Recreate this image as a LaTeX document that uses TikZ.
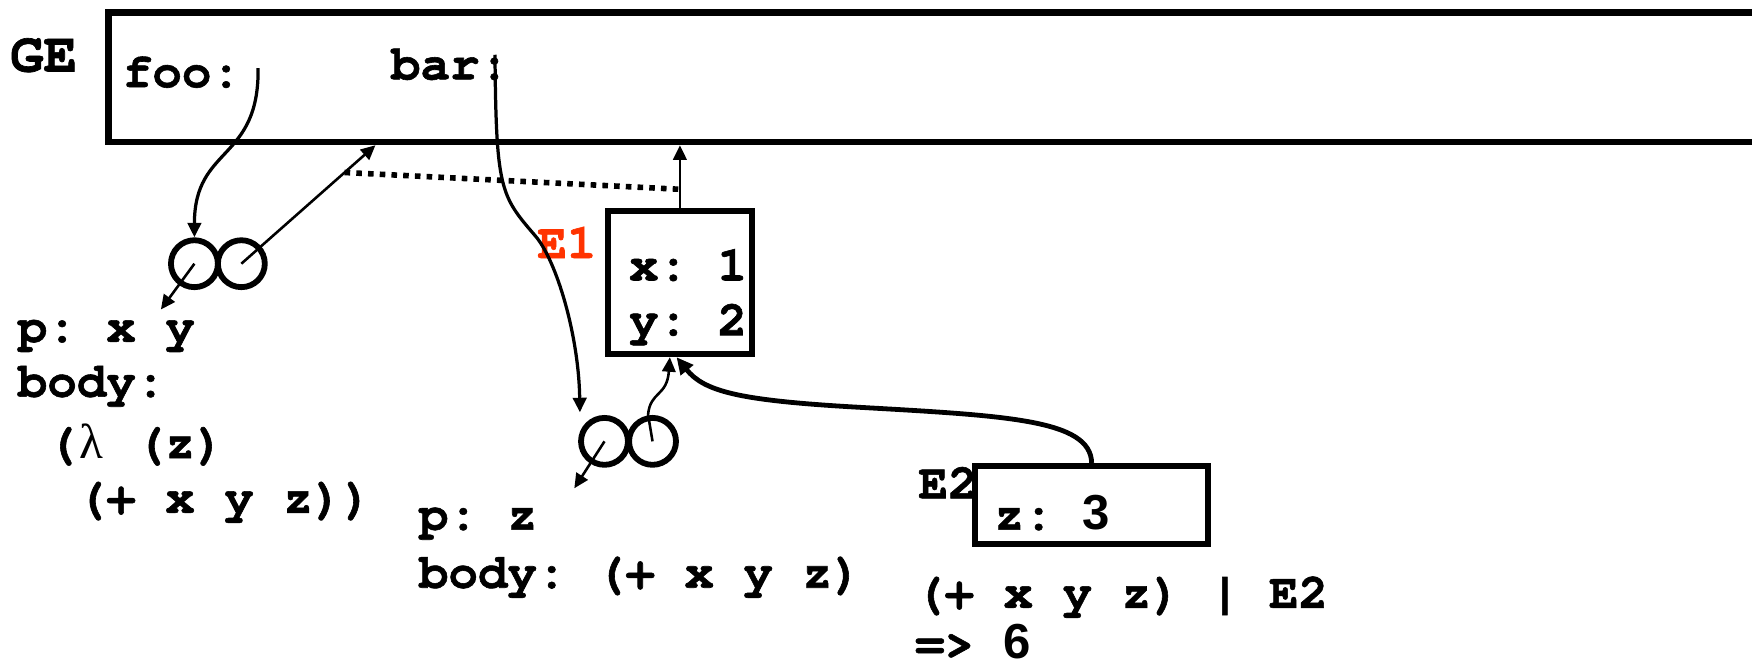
\documentclass[tikz,border=0pt]{standalone}
\usepackage{fontspec}
\setmonofont{texgyrecursor}[Extension=.otf, UprightFont=*-regular, BoldFont=*-bold, ItalicFont=*-italic, BoldItalicFont=*-bolditalic, BoldFeatures={FakeBold=1.2}]
\newfontfamily\sansdig{Liberation Sans}
\newfontfamily\seriff{Liberation Serif}
\usetikzlibrary{arrows.meta,calc}
\definecolor{eonered}{RGB}{255,51,0}
\begin{document}
\begin{tikzpicture}[x=1pt,y=-1pt,
  lbl/.style={inner sep=0pt, outer sep=0pt, anchor=base west,
    font=\ttfamily\bfseries\fontsize{44}{50}\selectfont},
  envbox/.style={draw, rectangle, line width=5.4pt, inner sep=0pt},
  ring/.style={draw, circle, line width=5.2pt, minimum size=42pt, inner sep=0pt},
  arr/.style={-{Triangle[length=13pt,width=12pt]}, line width=2.3pt},
  ptrarr/.style={arr, line width=2.9pt},
  thickarr/.style={-{Triangle[length=15pt,width=14pt]}, line width=4.3pt},
  dotline/.style={line width=5pt, dash pattern=on 5pt off 5.5pt}
]
\useasboundingbox (0,0) rectangle (1568,600);

% global environment
\node[envbox, line width=6pt, minimum width=1520pt, minimum height=116pt] (ge) at (857,69) {};
\node[lbl, font=\ttfamily\bfseries\fontsize{50}{56}\selectfont] (gelbl) at (9,64) {GE};
\node[lbl] (foo) at (110,78) {foo:};
\node[lbl] (bar) at (350,71) {bar:};

% E1
\node[envbox, minimum width=129pt, minimum height=128pt] (e1) at (608.5,253) {};
\node[lbl, text=eonered] (e1lbl) at (481,231) {E1};
\node[lbl] (xb) at (563,251) {x: 1};
\node[lbl] (yb) at (563,300) {y: 2};

% E2
\node[envbox, minimum width=208pt, minimum height=70pt] (e2) at (977,452) {};
\node[lbl] (e2lbl) at (822,446) {E2};
\node[lbl] (zb) at (890,474) {z: {\sansdig 3}};

% procedure objects
\node[ring] (c1l) at (174,236) {};
\node[ring] (c1r) at (216,236) {};
\node[ring] (c2l) at (541,395) {};
\node[ring] (c2r) at (584,395) {};

% texts
\node[lbl] (p1a) at (16,306) {p: x y};
\node[lbl] (p1b) at (16,355) {body:};
\node[lbl] (p1c) at (16,410) {\hspace*{0.6em}(\makebox[0.6em]{\seriff\mdseries λ} (z)};
\node[lbl] (p1d) at (16,459) {\hspace*{1.2em}(+ x y z))};
\node[lbl] (p2a) at (375,474) {p: z};
\node[lbl] (p2b) at (375,526) {body: (+ x y z)};
\node[lbl] (ev1) at (819,544) {(+ x y z) | E2};
\node[lbl] (ev2) at (819,589) {=> {\sansdig 6}};

% coordinates
\coordinate (foop) at (231,61);
\coordinate (barp) at (443,49);
\coordinate (geA) at ($(ge.south west)+(242,0)$);
\coordinate (geB) at (e1.north |- ge.south);
\coordinate (pxy) at (144,277);
\coordinate (pz) at (514,437);
\coordinate (dotA) at ($(c1r.center)!0.77!(geA)$);
\coordinate (dotB) at ($(e1.north)!0.3!(geB)$);

% connectors
\draw[ptrarr] (foop) .. controls (232,145) and (174,130) .. (174,200) -- (c1l.north);
\draw[arr] (c1l.center) -- (pxy);
\draw[arr] (c1r.center) -- (geA);
\draw[dotline] (dotA) -- (dotB);
\draw[arr] (e1.north) -- (geB);
\draw[ptrarr] (barp) .. controls (444,170) and (448,175) .. (479,211)
   .. controls (498,233) and (518,300) .. ($(c2l.center)+(-22,-26)$);
\draw[arr] (c2l.center) -- (pz);
\draw[arr] (c2r.center) -- ++(-4,-24) .. controls (582,350) and (597,355) .. ($(e1.south)+(-9,0)$);
\draw[thickarr] (e2.north) .. controls (976,375) and (900,372) .. (760,364)
   .. controls (660,358) and (630,350) .. ($(e1.south)+(-3,0)$);
\end{tikzpicture}
\end{document}
